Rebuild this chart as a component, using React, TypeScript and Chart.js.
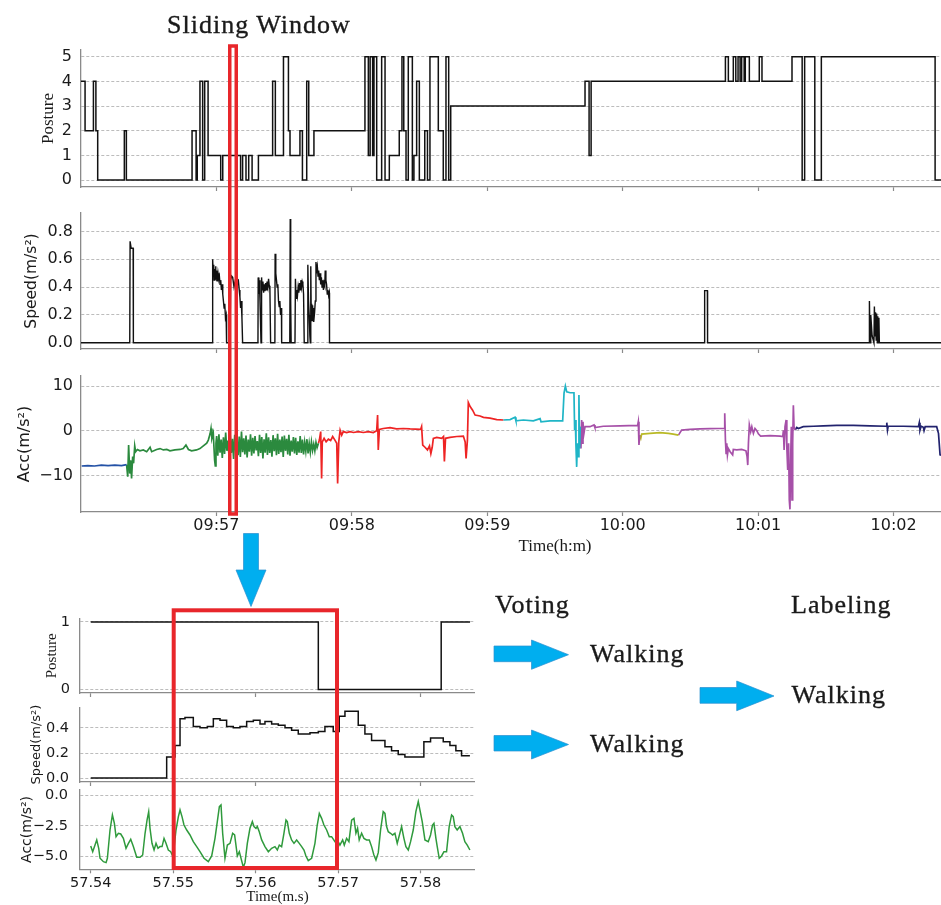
import React, { useEffect, useRef } from 'react';
import { Chart, registerables } from 'chart.js';

Chart.register(...registerables);
Chart.defaults.font.family = 'DejaVu Sans';

// ---------------- DATA (top panels, time in seconds after 09:56:00) ----------------
const TOP_X_TICKS = [60, 120, 180, 240, 300, 360];
const POSTURE_Y_TICKS = [0, 1, 2, 3, 4, 5];
const SPEED_Y_TICKS = [0, 0.2, 0.4, 0.6, 0.8];
const ACC_Y_TICKS = [-10, 0, 10];

// posture: [start time, level] (step function)
const POSTURE: [number, number][] = [
  [0, 4], [1.8, 2], [5.5, 4], [6.6, 2], [7.4, 0], [19.2, 2], [20.1, 0], [49.2, 2], [51.0, 0], [51.5, 1],
  [52.7, 4], [53.9, 0], [54.8, 4], [56.3, 1], [61.9, 0], [62.8, 1], [70.7, 0], [71.6, 1], [73.1, 0], [74.3, 1],
  [75.8, 0], [78.6, 1], [84.9, 4], [86.1, 1], [89.7, 5], [91.9, 2], [92.6, 1], [97.0, 2], [98.1, 0], [100.0, 4],
  [100.9, 1], [103.2, 2], [125.8, 5], [127.3, 1], [128.1, 5], [129.2, 1], [129.8, 5], [131.0, 0], [133.2, 5], [134.7, 0],
  [136.6, 1], [141.0, 2], [142.2, 5], [143.0, 2], [144.0, 0], [145.0, 5], [146.8, 0], [147.5, 1], [148.7, 4], [149.9, 0],
  [152.3, 2], [153.5, 0], [154.6, 5], [158.3, 2], [160.5, 0], [161.7, 5], [162.9, 0], [163.8, 3], [223.3, 4], [225.1, 1],
  [226.0, 4], [285.5, 5], [286.8, 4], [289.0, 5], [290.1, 4], [291.1, 5], [292.0, 4], [292.7, 5], [293.8, 4], [294.3, 5],
  [296.1, 4], [300.5, 5], [301.7, 4], [315.0, 5], [319.5, 0], [320.6, 5], [325.1, 0], [328.0, 5], [378.4, 0], [400, 0],
];

const SPEED: [number, number][] = [
  [0, 0], [21.6, 0], [21.75, 0.73], [22.2, 0.68], [23.1, 0.68], [23.2, 0], [58.2, 0], [58.33, 0.6], [58.6, 0.5], [58.8, 0.56],
  [59.0, 0.45], [59.2, 0.53], [59.4, 0.47], [59.6, 0.55], [59.8, 0.46], [60.1, 0.52], [60.4, 0.44], [60.7, 0.5], [61.0, 0.46], [61.3, 0.48],
  [61.6, 0.42], [61.9, 0.45], [62.2, 0.38], [62.5, 0.42], [62.8, 0.35], [63.1, 0.3], [63.4, 0.25], [63.7, 0.28], [64.0, 0.18], [64.3, 0.2],
  [64.5, 0], [66.0, 0], [66.3, 0.45], [66.7, 0.48], [67.2, 0.47], [67.8, 0.4], [68.4, 0.45], [69.0, 0.44], [69.7, 0.45], [70.1, 0.38],
  [70.4, 0.33], [70.7, 0.25], [71.0, 0.3], [71.3, 0.18], [71.6, 0], [78.4, 0], [78.5, 0.47], [78.8, 0.35], [79.0, 0.45], [79.3, 0.3],
  [79.6, 0.1], [79.75, 0], [80.0, 0.47], [80.3, 0.38], [80.6, 0.44], [80.9, 0.36], [81.2, 0.42], [81.5, 0.37], [81.8, 0.43], [82.1, 0.38],
  [82.4, 0.44], [82.8, 0.4], [83.1, 0.46], [83.4, 0.41], [83.7, 0.38], [84.0, 0], [85.9, 0], [86.0, 0.64], [86.3, 0.5], [86.6, 0.45],
  [86.9, 0.4], [87.2, 0.42], [87.5, 0.3], [87.8, 0.26], [88.1, 0.3], [88.4, 0.2], [88.8, 0.25], [88.9, 0], [92.5, 0], [92.7, 0.89],
  [92.9, 0.3], [93.1, 0], [94.8, 0], [95.0, 0.46], [95.3, 0.32], [95.6, 0.38], [95.9, 0.34], [96.2, 0.4], [96.5, 0.36], [96.8, 0.43],
  [97.1, 0.38], [97.4, 0.45], [97.7, 0.4], [98.0, 0.44], [98.3, 0.42], [98.6, 0.35], [98.9, 0], [100.3, 0], [100.5, 0.56], [100.8, 0.3],
  [101.1, 0.2], [101.4, 0.05], [101.6, 0], [101.8, 0.55], [102.0, 0.2], [102.2, 0.28], [102.4, 0.16], [102.6, 0.27], [102.8, 0.18], [103.0, 0.25],
  [103.2, 0.15], [103.5, 0.22], [103.8, 0.3], [104.1, 0.58], [104.4, 0.52], [104.7, 0.55], [105.0, 0.48], [105.3, 0.52], [105.6, 0.45], [105.9, 0.5],
  [106.2, 0.42], [106.5, 0.47], [106.8, 0.4], [107.1, 0.45], [107.4, 0.38], [107.7, 0.43], [108.0, 0.41], [108.2, 0.52], [108.5, 0.45], [108.8, 0.42],
  [109.1, 0.35], [109.4, 0.38], [109.7, 0.34], [110.0, 0.36], [110.1, 0], [276.2, 0], [276.3, 0.375], [277.5, 0.375], [277.6, 0], [349.2, 0],
  [349.3, 0.3], [349.6, 0], [349.9, 0.2], [350.5, 0.05], [351.3, 0], [351.5, 0.26], [351.8, 0.05], [352.0, 0.22], [352.3, 0.02], [352.5, 0.21],
  [352.8, 0], [353.0, 0.19], [353.3, 0], [353.5, 0.18], [353.7, 0], [400, 0],
];

const ACC_BLUE: [number, number][] = [
  [0.3, -7.9], [3, -7.8], [6, -7.9], [9, -7.7], [12, -7.8], [15, -7.7], [18, -7.8], [20.2, -7.6],
];
const ACC_GREEN: [number, number][] = [
  [20.2, -7.6], [20.7, -10.3], [21.1, -3.2], [21.6, -9.6], [22.0, -6.6], [22.4, -10.7], [22.9, -5.8], [23.3, -7.3], [23.8, -3.4], [24.2, -4.7],
  [25.0, -4.2], [26.1, -4.5], [27.6, -4.3], [29.1, -4.7], [30.6, -3.7], [31.3, -4.7], [33.5, -4.2], [35.0, -4.0], [36.5, -4.3], [38.0, -4.2],
  [39.4, -4.5], [41.6, -4.3], [43.9, -4.2], [45.3, -4.0], [46.5, -3.2], [47.6, -4.2], [49.0, -4.5], [51.2, -4.3], [52.7, -4.0], [54.2, -3.4],
  [55.7, -2.8], [56.4, -2.1], [57.2, -0.7], [57.6, 0.5], [58.0, -1.7], [58.6, -0.6], [59.2, -6.6], [59.5, -7.9], [59.8, -2.8],
  [60.1, -1.2], [60.6, -5.6], [61.1, -0.8], [61.6, -4.9], [62.1, -2.0], [62.6, -6.1], [63.1, -1.5], [63.6, -5.2], [64.1, -0.4], [64.6, -4.5],
  [65.1, -2.2], [65.6, -5.8], [66.1, -1.0], [66.6, -5.0], [67.1, -1.8], [67.6, -6.3], [68.1, -0.9], [68.6, -4.6], [69.1, -2.5], [69.6, -5.5],
  [70.1, -1.3], [70.6, -5.9], [71.1, -0.2], [71.6, -4.8], [72.1, -1.7], [72.6, -5.3], [73.1, -1.1], [73.6, -6.0], [74.1, -2.0], [74.6, -4.7],
  [75.1, -0.8], [75.6, -5.6], [76.1, -1.6], [76.6, -5.1], [77.1, -1.2], [77.6, -4.4], [78.1, -2.3], [78.6, -5.7], [79.1, -0.9], [79.6, -5.0],
  [80.1, -1.4], [80.6, -6.2], [81.1, -1.9], [81.6, -4.9], [82.1, -0.6], [82.6, -5.4], [83.1, -1.5], [83.6, -5.0], [84.1, -2.1], [84.6, -5.8],
  [85.1, -1.0], [85.6, -4.6], [86.1, -1.7], [86.6, -5.5], [87.1, -0.7], [87.6, -5.2], [88.1, -2.0], [88.6, -4.8], [89.1, -1.3], [89.6, -5.9],
  [90.1, -1.1], [90.6, -4.5], [91.1, -1.8], [91.6, -5.3], [92.1, -0.9], [92.6, -5.6], [93.1, -2.2], [93.6, -4.7], [94.1, -1.4], [94.6, -5.1],
  [95.1, -1.6], [95.6, -5.4], [96.1, -2.4], [96.6, -4.9], [97.1, -1.2], [97.6, -5.0], [98.1, -2.0], [98.6, -5.3], [99.1, -2.6], [99.6, -4.6],
  [100.1, -1.9], [100.6, -5.1], [101.1, -2.8], [101.6, -4.8], [102.1, -2.5], [102.6, -4.4], [103.1, -3.0], [103.6, -4.5], [104.1, -2.6], [104.6, -3.8],
  [105.2, -2.8],
];
const ACC_RED: [number, number][] = [
  [105.2, -2.8], [105.6, -2.1], [106.2, -0.2], [106.6, -10.7], [106.9, -2.5], [107.7, -1.7], [108.6, -2.5], [109.6, -1.9], [110.6, -2.2], [111.5, -1.3],
  [112.5, -2.1], [113.3, -2.8], [113.7, -11.8], [114.2, -2.5], [114.8, 0.1], [115.5, -1.0], [116.2, -0.2], [117.7, -0.4], [119.2, -0.2], [120.7, -0.4],
  [122.9, -0.2], [125.1, -0.4], [127.3, -0.2], [129.5, -0.4], [131.0, 0], [131.4, 3.5], [131.7, -4.3], [132.2, 0.3], [133.9, 0.5], [136.9, 0.7],
  [139.8, 0.4], [142.8, 0.5], [145.8, 0.4], [150.5, 0.3], [150.9, 0.9], [151.4, -3.2], [152.4, -3.7], [153.5, -4.3], [154.4, -3.4], [155.0, -5.1],
  [155.6, -3.7], [156.1, -1.7], [157.6, -1.5], [159.8, -1.7], [160.6, -1.3], [161.0, -6.9], [161.5, -1.7], [163.5, -1.5], [166.5, -1.3], [169.4, -1.2],
  [170.2, -2.5], [170.6, -6.2], [171.2, -2.1], [171.6, 6.3], [172.4, 5.4], [173.5, 4.6], [174.6, 3.5], [176.8, 3.3], [178.3, 3.0], [181.2, 2.8],
  [184.2, 2.5], [187.1, 2.4],
];
const ACC_CYAN: [number, number][] = [
  [187.1, 2.4], [190.1, 2.5], [192.3, 3.0], [192.7, 2.2], [196.0, 2.4], [200.4, 2.2], [203.4, 2.7], [203.8, 2.0], [207.8, 2.2], [213.4, 2.2],
  [214.0, 8.4], [214.6, 10.0], [215.2, 8.7], [216.7, 8.5], [218.4, 8.5], [218.7, 0.1], [219.0, 2.4], [219.3, -3.6], [219.6, -8.1], [219.9, -2.8],
  [220.4, -5.8], [220.6, 8.0], [220.9, -4.0], [221.2, 0.9],
];
const ACC_PURPLE_A: [number, number][] = [
  [221.2, 0.9], [221.5, -4.0], [221.8, 2.4], [222.1, -2.8], [222.4, 2.0], [222.7, -1.0], [223.3, 0.9], [225.5, 0.9], [227.3, 1.3], [227.7, 0.7],
  [231.4, 1.0], [238.8, 1.1], [246.6, 1.2], [246.9, 2.0], [247.2, -3.2], [247.5, -1.0],
];
const ACC_OLIVE: [number, number][] = [
  [247.5, -1.0], [248.0, -1.7], [248.4, -0.75], [252.1, -0.6], [256.5, -0.45], [260.2, -0.6], [262.4, -0.75], [264.7, -1.0],
];
const ACC_PURPLE_B: [number, number][] = [
  [264.7, -1.0], [266.1, 0.15], [269.8, 0.3], [274.3, 0.4], [278.7, 0.45], [282.4, 0.5], [284.9, 0.5], [285.2, 3.9], [285.5, -2.1], [285.8, -5.1],
  [286.1, -2.8], [286.4, -5.4], [286.8, -4.0], [287.6, -4.7], [288.7, -5.4], [289.0, -4.2], [290.5, -4.3], [292.7, -4.2], [294.6, -4.5], [295.1, -5.8],
  [295.4, -7.7], [295.7, -2.8], [296.1, 1.3], [296.7, -0.2], [297.2, 0.9], [297.9, -0.6], [298.6, 0.5], [299.4, 0], [300.1, -0.7], [301.1, -1.2],
  [305.3, -1.1], [309.7, -1.2], [310.9, -1.3], [311.2, 0.1], [311.5, -4.3], [311.9, 0.9], [312.4, 2.4], [312.7, -3.6], [313.1, -8.8], [313.5, -2.8],
  [313.8, -15.5], [314.1, -17.6], [314.4, -6.6], [314.7, 0.9], [315.0, -15.5], [315.3, -2.8], [315.6, 5.7], [315.9, 0.9], [316.4, 0.15],
];
const ACC_NAVY: [number, number][] = [
  [316.4, 0.15], [317.1, 0.75], [317.8, 0.5], [320.0, 0.9], [324.5, 1.0], [328.9, 1.1], [334.8, 1.2], [342.2, 1.2], [349.6, 1.1], [356.7, 1.0],
  [357.0, 1.8], [357.3, 0.15], [357.6, 1.0], [364.4, 1.0], [371.0, 0.9], [371.4, 1.8], [371.7, 0.15], [372.2, 1.0], [373.2, 0.75], [373.5, 0],
  [374.0, 0.9], [379.1, 0.9], [379.9, -0.6], [380.6, -5.4], [382, -5.6],
];

// ---------------- DATA (zoomed window, Time(m.s)) ----------------
const MINI_X_TICKS = [57.54, 57.55, 57.56, 57.57, 57.58];
const MINI_X_TICKS_SPARSE = [57.54, 57.56, 57.58];
const MINI_POSTURE_Y_TICKS = [0, 1];
const MINI_SPEED_Y_TICKS = [0, 0.2, 0.4];
const MINI_ACC_Y_TICKS = [-5, -2.5, 0];

const MINI_POSTURE: [number, number][] = [[57.54, 1], [57.5676, 0], [57.5825, 1], [57.586, 1]];
const MINI_SPEED: [number, number][] = [
  [57.54, 0.005], [57.54921, 0.17], [57.55022, 0.26], [57.55083, 0.47], [57.55143, 0.48], [57.55244, 0.41], [57.55325, 0.40], [57.55414, 0.41],
  [57.55487, 0.47], [57.55568, 0.46], [57.55648, 0.41], [57.55729, 0.40], [57.5581, 0.41], [57.55891, 0.45], [57.55972, 0.46], [57.56053, 0.43],
  [57.56113, 0.45], [57.56194, 0.43], [57.56275, 0.42], [57.56356, 0.40], [57.56436, 0.38], [57.56517, 0.35], [57.56659, 0.36], [57.5676, 0.37],
  [57.5684, 0.41], [57.56941, 0.37], [57.57014, 0.49], [57.57083, 0.53], [57.57244, 0.42], [57.57325, 0.35], [57.57406, 0.30], [57.57487, 0.30],
  [57.57568, 0.25], [57.57648, 0.22], [57.57729, 0.19], [57.5781, 0.17], [57.5804, 0.29], [57.58121, 0.32], [57.58202, 0.32], [57.58275, 0.29],
  [57.58356, 0.26], [57.58428, 0.22], [57.58497, 0.18], [57.58598, 0.18],
];
const MINI_ACC: [number, number][] = [
  [57.54000, -4.15], [57.54024, -4.62], [57.54073, -3.65], [57.54097, -4.34], [57.54113, -5.16], [57.54154, -5.44], [57.54186, -5.52], [57.54202, -5.16],
  [57.54234, -2.83], [57.54263, -1.59], [57.54287, -2.28], [57.54307, -3.38], [57.54335, -3.10], [57.54364, -3.16], [57.54396, -3.52], [57.54428, -4.34],
  [57.54457, -3.93], [57.54485, -3.60], [57.54517, -4.20], [57.54558, -5.08], [57.54598, -5.08], [57.54630, -4.89], [57.54659, -3.10], [57.54683, -2.01],
  [57.54703, -1.32], [57.54719, -2.69], [57.54743, -3.93], [57.54768, -4.48], [57.54792, -3.93], [57.54816, -4.34], [57.54840, -4.20], [57.54865, -4.20],
  [57.54889, -3.52], [57.54913, -3.93], [57.54941, -4.48], [57.54970, -4.62], [57.54994, -4.97], [57.55010, -4.34], [57.55034, -2.83], [57.55063, -1.73],
  [57.55083, -1.18], [57.55107, -1.73], [57.55131, -2.42], [57.55164, -2.83], [57.55204, -3.24], [57.55244, -3.79], [57.55285, -4.20], [57.55325, -4.62],
  [57.55374, -5.16], [57.55426, -5.44], [57.55467, -4.97], [57.55507, -3.52], [57.55535, -2.14], [57.55560, -0.91], [57.55580, -0.77], [57.55600, -3.10],
  [57.55628, -5.16], [57.55657, -4.07], [57.55689, -3.93], [57.55721, -3.10], [57.55745, -3.24], [57.55778, -4.97], [57.55802, -4.62], [57.55830, -5.36],
  [57.55851, -5.91], [57.55871, -5.52], [57.55899, -3.93], [57.55931, -2.69], [57.55960, -2.14], [57.55980, -2.55], [57.56004, -2.69], [57.56020, -2.55],
  [57.56044, -2.97], [57.56073, -3.65], [57.56113, -4.20], [57.56154, -4.62], [57.56194, -4.34], [57.56234, -4.20], [57.56263, -4.48], [57.56287, -4.07],
  [57.56315, -4.20], [57.56343, -3.10], [57.56368, -2.01], [57.56384, -2.14], [57.56408, -3.10], [57.56436, -3.65], [57.56465, -3.93], [57.56497, -3.65],
  [57.56529, -3.93], [57.56558, -4.20], [57.56586, -4.48], [57.56610, -4.97], [57.56638, -5.36], [57.56679, -5.16], [57.56719, -3.93], [57.56747, -2.42],
  [57.56772, -1.46], [57.56800, -1.87], [57.56828, -2.42], [57.56861, -2.83], [57.56893, -3.38], [57.56921, -3.38], [57.56962, -3.79], [57.56990, -3.65],
  [57.57022, -4.07], [57.57055, -3.65], [57.57075, -4.07], [57.57103, -3.52], [57.57131, -3.79], [57.57164, -2.01], [57.57192, -1.87], [57.57216, -3.10],
  [57.57236, -2.69], [57.57256, -3.65], [57.57285, -3.10], [57.57313, -3.52], [57.57345, -3.65], [57.57378, -3.65], [57.57406, -4.20], [57.57434, -4.89],
  [57.57459, -5.30], [57.57487, -4.70], [57.57515, -2.83], [57.57547, -1.32], [57.57568, -1.46], [57.57588, -2.55], [57.57608, -2.97], [57.57636, -3.10],
  [57.57661, -3.24], [57.57689, -3.10], [57.57717, -3.93], [57.57749, -3.10], [57.57770, -2.55], [57.57798, -3.52], [57.57822, -4.20], [57.57851, -4.48],
  [57.57879, -3.79], [57.57911, -2.83], [57.57943, -1.32], [57.57972, -0.49], [57.57992, -1.18], [57.58020, -2.14], [57.58053, -3.65], [57.58093, -3.79],
  [57.58121, -3.24], [57.58145, -2.42], [57.58162, -2.28], [57.58186, -3.52], [57.58202, -4.20], [57.58226, -5.16], [57.58255, -4.97], [57.58283, -4.62],
  [57.58315, -4.62], [57.58347, -2.55], [57.58376, -1.59], [57.58396, -1.73], [57.58416, -2.55], [57.58444, -2.83], [57.58477, -2.55], [57.58509, -3.10],
  [57.58537, -3.79], [57.58566, -4.07], [57.58598, -4.48],
];

// ---------------- STYLE ----------------
const SPINE = '#8a8a8a';
const GRID = '#b4b4b4';
const TEXT = '#1a1a1a';
const RED = '#e8262b';
const BLUE_ARROW = '#00aeef';
const SERIF = '"Liberation Serif", "Times New Roman", serif';
const SANS = '"DejaVu Sans", sans-serif';

const fmtHM = (s: number) => {
  const total = 9 * 60 + 56 + Math.round(s / 60);
  const h = Math.floor(total / 60);
  const m = total % 60;
  return `${String(h).padStart(2, '0')}:${String(m).padStart(2, '0')}`;
};
const fmtNum = (d: number) => (v: number) => {
  const s = Number(v).toFixed(d);
  return s.startsWith('-') ? '\u2212' + s.slice(1) : s;
};

const toXY = (arr: [number, number][]) => arr.map(([x, y]) => ({ x, y }));

const ds = (arr: [number, number][], color: string, width = 1.5, stepped: any = false) => ({
  data: toXY(arr),
  borderColor: color,
  borderWidth: width,
  pointRadius: 0,
  fill: false,
  stepped,
  tension: 0,
});

type XOpts = {
  min: number; max: number; ticks: number[]; fmt: (v: number) => string; showLabels: boolean;
  height: number; tickSize: number; tickPad?: number; title?: string; titleSize?: number; titlePadBottom?: number;
};
const xScale = (o: XOpts) => ({
  type: 'linear',
  min: o.min,
  max: o.max,
  afterBuildTicks: (s: any) => { s.ticks = o.ticks.map((v) => ({ value: v })); },
  afterFit: (s: any) => { s.height = o.height; s.paddingLeft = 0; s.paddingRight = 0; },
  grid: { display: true, drawOnChartArea: false, drawTicks: true, tickLength: 4, tickColor: SPINE, tickWidth: 1.2 },
  border: { display: true, color: SPINE, width: 1.3 },
  ticks: {
    display: o.showLabels, padding: o.tickPad ?? 0, autoSkip: false, maxRotation: 0,
    font: { family: SANS, size: o.tickSize }, color: TEXT,
    callback: (v: any) => o.fmt(Number(v)),
  },
  title: o.title
    ? { display: true, text: o.title, color: TEXT, font: { family: SERIF, size: o.titleSize }, padding: { top: 0, bottom: o.titlePadBottom ?? 0 } }
    : { display: false },
});

type YOpts = {
  min: number; max: number; ticks: number[]; fmt: (v: number) => string; width: number; tickSize: number; tickPad: number;
  title: string; titleFamily: string; titleSize: number; titlePadTop: number;
};
const yScale = (o: YOpts) => ({
  type: 'linear',
  min: o.min,
  max: o.max,
  afterBuildTicks: (s: any) => { s.ticks = o.ticks.map((v) => ({ value: v })); },
  afterFit: (s: any) => { s.width = o.width; s.paddingTop = 0; s.paddingBottom = 0; },
  grid: { display: true, drawTicks: false, color: GRID, lineWidth: 0.9 },
  border: { display: true, color: SPINE, width: 1.3, dash: [3, 2] },
  ticks: {
    padding: o.tickPad, autoSkip: false,
    font: { family: SANS, size: o.tickSize }, color: TEXT,
    callback: (v: any) => o.fmt(Number(v)),
  },
  title: {
    display: true, text: o.title, color: TEXT,
    font: { family: o.titleFamily, size: o.titleSize },
    padding: { top: o.titlePadTop, bottom: 0 },
  },
});

const makeConfig = (datasets: any[], x: any, y: any, padTop: number) => ({
  type: 'line',
  data: { datasets },
  options: {
    animation: false,
    responsive: false,
    maintainAspectRatio: false,
    devicePixelRatio: 1,
    layout: { padding: { top: padTop, left: 0, right: 0, bottom: 0 } },
    plugins: { legend: { display: false }, tooltip: { enabled: false }, title: { display: false } },
    elements: { point: { radius: 0 }, line: { tension: 0 } },
    scales: { x, y },
  },
});

function ChartCanvas({ top, width, height, config }: { top: number; width: number; height: number; config: any }) {
  const ref = useRef<HTMLCanvasElement | null>(null);
  useEffect(() => {
    const chart = new Chart(ref.current as HTMLCanvasElement, config);
    return () => chart.destroy();
  }, []);
  return (
    <canvas
      ref={ref}
      width={width}
      height={height}
      style={{ position: 'absolute', left: 0, top, width, height, display: 'block' }}
    />
  );
}

// ---------------- CONFIGS ----------------
const TOP_W = 1029;
const TOP_LEFT = 81;
const topX = (showLabels: boolean, height: number, title?: string) =>
  xScale({ min: 0, max: 420, ticks: TOP_X_TICKS, fmt: fmtHM, showLabels, height, tickSize: 16, tickPad: 0, title, titleSize: 17, titlePadBottom: 4.8 });

const cfgPosture = makeConfig(
  [ds(POSTURE, '#111', 1.5, 'before')],
  topX(false, 10),
  yScale({ min: -0.28, max: 5.27, ticks: POSTURE_Y_TICKS, fmt: fmtNum(0), width: TOP_LEFT, tickSize: 16, tickPad: 9,
    title: 'Posture', titleFamily: SERIF, titleSize: 17, titlePadTop: 38.8 }),
  6,
);
const cfgSpeed = makeConfig(
  [ds(SPEED, '#111', 1.4)],
  topX(false, 10),
  yScale({ min: -0.045, max: 0.933, ticks: SPEED_Y_TICKS, fmt: fmtNum(1), width: TOP_LEFT, tickSize: 16, tickPad: 8,
    title: 'Speed(m/s\u00B2)', titleFamily: SANS, titleSize: 15.5, titlePadTop: 22.7 }),
  6,
);
const cfgAcc = makeConfig(
  [
    ds(ACC_BLUE, '#2452a6', 1.7),
    ds(ACC_GREEN, '#2b8a3e', 1.7),
    ds(ACC_RED, '#ee2424', 1.7),
    ds(ACC_CYAN, '#1fb5c6', 1.7),
    ds(ACC_PURPLE_A, '#a650a8', 1.7),
    ds(ACC_OLIVE, '#b9b925', 1.7),
    ds(ACC_PURPLE_B, '#a650a8', 1.7),
    ds(ACC_NAVY, '#22236e', 1.7),
  ],
  topX(true, 50, 'Time(h:m)'),
  yScale({ min: -18.2, max: 12.25, ticks: ACC_Y_TICKS, fmt: fmtNum(0), width: TOP_LEFT, tickSize: 16, tickPad: 8,
    title: 'Acc(m/s\u00B2)', titleFamily: SANS, titleSize: 16, titlePadTop: 15.4 }),
  6,
);

const MINI_W = 475;
const MINI_LEFT = 80;
const miniX = (ticks: number[], showLabels: boolean, height: number, title?: string) =>
  xScale({ min: 57.5387, max: 57.5866, ticks, fmt: fmtNum(2), showLabels, height, tickSize: 14.5, tickPad: 1, title, titleSize: 15, titlePadBottom: 3 });

const cfgMiniPosture = makeConfig(
  [ds(MINI_POSTURE, '#111', 1.5, 'before')],
  miniX(MINI_X_TICKS_SPARSE, false, 8),
  yScale({ min: -0.05, max: 1.05, ticks: MINI_POSTURE_Y_TICKS, fmt: fmtNum(0), width: MINI_LEFT, tickSize: 14.5, tickPad: 10,
    title: 'Posture', titleFamily: SERIF, titleSize: 15, titlePadTop: 43 }),
  6.6,
);
const cfgMiniSpeed = makeConfig(
  [ds(MINI_SPEED, '#111', 1.5, 'before')],
  miniX(MINI_X_TICKS_SPARSE, false, 8),
  yScale({ min: -0.0267, max: 0.561, ticks: MINI_SPEED_Y_TICKS, fmt: fmtNum(1), width: MINI_LEFT, tickSize: 14.5, tickPad: 11,
    title: 'Speed(m/s\u00B2)', titleFamily: SANS, titleSize: 13, titlePadTop: 29.2 }),
  6.3,
);
const cfgMiniAcc = makeConfig(
  [ds(MINI_ACC, '#2f9a3c', 1.5)],
  miniX(MINI_X_TICKS, true, 39.7, 'Time(m.s)'),
  yScale({ min: -6.07, max: 0.5, ticks: MINI_ACC_Y_TICKS, fmt: fmtNum(1), width: MINI_LEFT, tickSize: 14.5, tickPad: 12,
    title: 'Acc(m/s\u00B2)', titleFamily: SANS, titleSize: 14, titlePadTop: 18.6 }),
  6.6,
);

// ---------------- ANNOTATION LAYER ----------------
const labelStyle = { fontFamily: SERIF, fontSize: 26, letterSpacing: 1, fill: TEXT, stroke: TEXT, strokeWidth: 0.35 } as any;

function Overlay() {
  return (
    <svg width={941} height={905} style={{ position: 'absolute', left: 0, top: 0, pointerEvents: 'none' }}>
      <text x={167} y={33} style={labelStyle}>Sliding Window</text>
      <text x={495} y={613} style={labelStyle}>Voting</text>
      <text x={791} y={613} style={labelStyle}>Labeling</text>
      <text x={590} y={661.5} style={labelStyle}>Walking</text>
      <text x={791.5} y={703} style={labelStyle}>Walking</text>
      <text x={590} y={751.5} style={labelStyle}>Walking</text>

      <rect x={229.75} y={46} width={6.5} height={468} fill="none" stroke={RED} strokeWidth={3.5} />
      <rect x={173.7} y={610.3} width={163.3} height={257.7} fill="none" stroke={RED} strokeWidth={4} />

      <polygon points="243.5,533.5 258.5,533.5 258.5,570 266,570 251,606.5 236,570 243.5,570"
        fill={BLUE_ARROW} stroke="#2a8fd0" strokeWidth={0.7} />
      <polygon points="494,646 531.5,646 531.5,640 568.5,654.7 531.5,669.3 531.5,661.7 494,661.7"
        fill={BLUE_ARROW} stroke="#2a8fd0" strokeWidth={0.7} />
      <polygon points="494,735.5 531.5,735.5 531.5,730 568.5,744.5 531.5,759 531.5,751 494,751"
        fill={BLUE_ARROW} stroke="#2a8fd0" strokeWidth={0.7} />
      <polygon points="700,687.5 736.7,687.5 736.7,681 774,696 736.7,710.7 736.7,703.3 700,703.3"
        fill={BLUE_ARROW} stroke="#2a8fd0" strokeWidth={0.7} />
    </svg>
  );
}

export default function App() {
  return (
    <div style={{ position: 'fixed', left: 0, top: 0, width: 941, height: 905, overflow: 'hidden', background: '#ffffff' }}>
      <ChartCanvas top={44} width={TOP_W} height={153} config={cfgPosture} />
      <ChartCanvas top={207} width={TOP_W} height={152} config={cfgSpeed} />
      <ChartCanvas top={370} width={TOP_W} height={192} config={cfgAcc} />
      <ChartCanvas top={612} width={MINI_W} height={89} config={cfgMiniPosture} />
      <ChartCanvas top={701} width={MINI_W} height={89} config={cfgMiniSpeed} />
      <ChartCanvas top={783} width={MINI_W} height={126} config={cfgMiniAcc} />
      <Overlay />
    </div>
  );
}
